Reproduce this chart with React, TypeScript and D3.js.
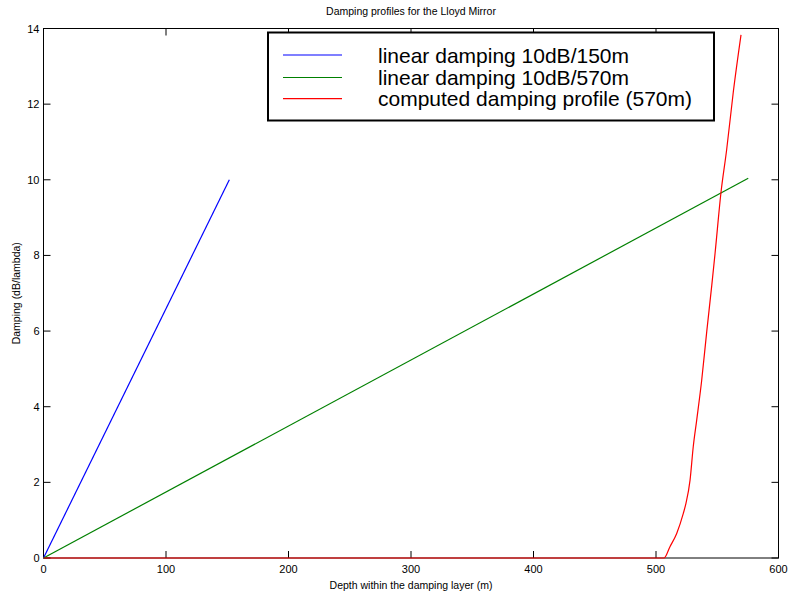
import React from "react";
import * as d3 from "d3";

const title = "Damping profiles for the Lloyd Mirror";
const xLabel = "Depth within the damping layer (m)";
const yLabel = "Damping (dB/lambda)";
const xTicks = [0, 100, 200, 300, 400, 500, 600];
const yTicks = [0, 2, 4, 6, 8, 10, 12, 14];

const blueX = [0, 151.7];
const blueY = [0, 10];
const greenX = [0, 575.3];
const greenY = [0, 10.04];
const redX = [0, 506.5, 511.4, 516.9, 522.3, 524.5, 527.8, 530.4, 533.2, 537.3, 541.4, 545.5, 548.2, 553.0, 557.7, 563.1, 569.4];
const redY = [0, 0, 0.3, 0.65, 1.18, 1.45, 2.06, 2.94, 3.64, 4.7, 5.98, 7.2, 8.05, 9.65, 10.8, 12.32, 13.83];

const legendLabels = [
  "linear damping 10dB/150m",
  "linear damping 10dB/570m",
  "computed damping profile (570m)",
];
const colors = ["#0000ff", "#008000", "#ff0000"];

export default function App() {
  const W = 788, H = 593;
  const L = 43.5, R = 778.5, T = 28.5, B = 558;
  const x = d3.scaleLinear().domain([0, 600]).range([L, R]);
  const y = d3.scaleLinear().domain([0, 14]).range([B, T]);
  const line = d3.line<[number, number]>().x((d) => x(d[0])).y((d) => y(d[1]));
  const smooth = d3.line<[number, number]>().x((d) => x(d[0])).y((d) => y(d[1])).curve(d3.curveMonotoneX);
  const series = [
    blueX.map((v, i) => [v, blueY[i]] as [number, number]),
    greenX.map((v, i) => [v, greenY[i]] as [number, number]),
    redX.map((v, i) => [v, redY[i]] as [number, number]),
  ];
  const font = "Liberation Sans, Arial, sans-serif";
  const tl = 7;
  const legY = [55, 77.5, 98.7];
  return (
    <svg width={W} height={H} style={{ position: "absolute", left: 0, top: 0, background: "#fff" }} fontFamily={font}>
      <rect x={0} y={0} width={W} height={H} fill="#fff" />
      <text x={(L + R) / 2} y={15} fontSize={10.5} textAnchor="middle">{title}</text>
      {xTicks.map((t) => (
        <g key={"x" + t}>
          <line x1={x(t)} x2={x(t)} y1={B} y2={B - tl} stroke="#000" />
          <line x1={x(t)} x2={x(t)} y1={T} y2={T + tl} stroke="#000" />
          <text x={x(t)} y={573} fontSize={11} textAnchor="middle">{t}</text>
        </g>
      ))}
      {yTicks.map((t) => (
        <g key={"y" + t}>
          <line x1={L} x2={L + tl} y1={y(t)} y2={y(t)} stroke="#000" />
          <line x1={R} x2={R - tl} y1={y(t)} y2={y(t)} stroke="#000" />
          <text x={39.5} y={y(t) + 4} fontSize={11} textAnchor="end">{t}</text>
        </g>
      ))}
      <rect x={L} y={T} width={R - L} height={B - T} fill="none" stroke="#000" />
      {series.map((s, i) => (
        <path key={i} d={(i === 2 ? smooth(s) : line(s)) || ""} fill="none" stroke={colors[i]} strokeWidth={1.2} />
      ))}
      <text x={(L + R) / 2} y={589} fontSize={10.5} textAnchor="middle">{xLabel}</text>
      <text transform={`translate(20,${(T + B) / 2}) rotate(-90)`} fontSize={10.5} textAnchor="middle">{yLabel}</text>
      <rect x={268} y={32.5} width={446} height={88} fill="#fff" stroke="#000" strokeWidth={2} />
      {legendLabels.map((lab, i) => (
        <g key={lab}>
          <line x1={283} x2={342} y1={legY[i]} y2={legY[i]} stroke={colors[i]} strokeWidth={1.2} />
          <text x={378} y={legY[i] + 7.5} fontSize={21}>{lab}</text>
        </g>
      ))}
    </svg>
  );
}
